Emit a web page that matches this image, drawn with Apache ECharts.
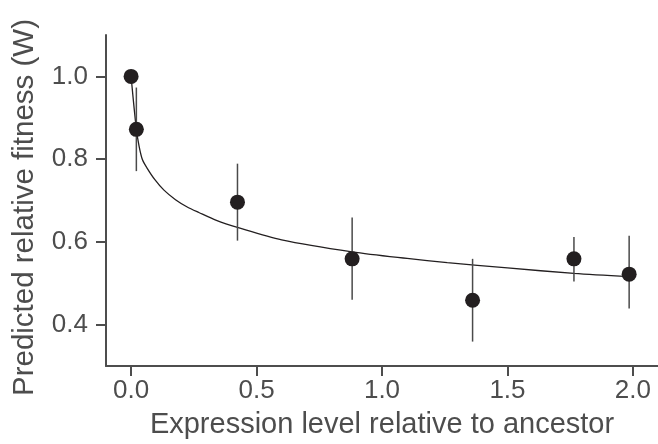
<!DOCTYPE html>
<html>
<head>
<meta charset="utf-8">
<script src="https://cdn.jsdelivr.net/npm/echarts@6/dist/echarts.min.js"></script>
<style>html,body{margin:0;padding:0;background:#fff}#c{width:658px;height:444px}</style>
</head>
<body>
<div id="c"></div>
<script>
// Observed points
var pointX = [0.0, 0.021, 0.424, 0.881, 1.361, 1.765, 1.985];
var pointY = [1.0, 0.872, 0.696, 0.559, 0.459, 0.559, 0.522];
var errLow = [1.0, 0.771, 0.603, 0.460, 0.359, 0.504, 0.439];
var errHigh = [1.0, 0.973, 0.789, 0.659, 0.559, 0.612, 0.615];
// Fitted curve
var curveX = [0, 0.021, 0.032, 0.045, 0.063, 0.094, 0.131, 0.177, 0.222, 0.27, 0.34, 0.424, 0.6, 0.881, 1.1, 1.26, 1.5, 1.765, 1.985];
var curveY = [1.0, 0.872, 0.831, 0.799, 0.779, 0.751, 0.725, 0.702, 0.685, 0.671, 0.652, 0.635, 0.605, 0.576, 0.56, 0.550, 0.537, 0.524, 0.516];
var xTicks = [0.0, 0.5, 1.0, 1.5, 2.0];
var yTicks = [0.4, 0.6, 0.8, 1.0];

var axisColor = '#4d4d4d';
var font = 'Liberation Sans, Arial, sans-serif';

var chart = echarts.init(document.getElementById('c'));
chart.setOption({
  animation: false,
  grid: {left: 106, right: -4, top: 35, bottom: 78},
  xAxis: {
    type: 'value', min: -0.1, max: 2.1, interval: 0.1,
    name: 'Expression level relative to ancestor',
    nameLocation: 'middle', nameGap: 44,
    nameTextStyle: {fontSize: 29, color: axisColor, fontFamily: font},
    axisLine: {onZero: false, lineStyle: {color: axisColor, width: 2}},
    axisTick: {show: true, length: 10, lineStyle: {color: axisColor, width: 2},
      customValues: xTicks},
    axisLabel: {fontSize: 26, color: axisColor, fontFamily: font, margin: 12,
      customValues: xTicks,
      formatter: function(v){ return v.toFixed(1); }},
    splitLine: {show: false}
  },
  yAxis: {
    type: 'value', min: 0.3, max: 1.1, interval: 0.1,
    name: 'Predicted relative fitness (W)',
    nameLocation: 'middle', nameGap: 66,
    nameTextStyle: {fontSize: 29.5, color: axisColor, fontFamily: font, padding: [0, 14, 0, 0]},
    axisLine: {onZero: false, lineStyle: {color: axisColor, width: 2}},
    axisTick: {show: true, length: 10, lineStyle: {color: axisColor, width: 2},
      customValues: yTicks},
    axisLabel: {fontSize: 26, color: axisColor, fontFamily: font, margin: 18,
      customValues: yTicks,
      formatter: function(v){ return v.toFixed(1); }},
    splitLine: {show: false}
  },
  series: [
    {
      type: 'line',
      data: curveX.map(function(x, i){ return [x, curveY[i]]; }),
      smooth: 0.3,
      showSymbol: false,
      lineStyle: {color: '#231f20', width: 1.3},
      z: 2
    },
    {
      type: 'custom',
      data: pointX.map(function(x, i){ return [x, errLow[i], errHigh[i]]; }),
      renderItem: function(params, api){
        var lo = api.coord([api.value(0), api.value(1)]);
        var hi = api.coord([api.value(0), api.value(2)]);
        return {type: 'line', shape: {x1: lo[0], y1: lo[1], x2: hi[0], y2: hi[1]},
          style: {stroke: '#4a4a4a', lineWidth: 1.5}};
      },
      z: 3
    },
    {
      type: 'scatter',
      data: pointX.map(function(x, i){ return [x, pointY[i]]; }),
      symbol: 'circle', symbolSize: 15,
      itemStyle: {color: '#231f20', opacity: 1},
      z: 4
    }
  ]
});
</script>
</body>
</html>
